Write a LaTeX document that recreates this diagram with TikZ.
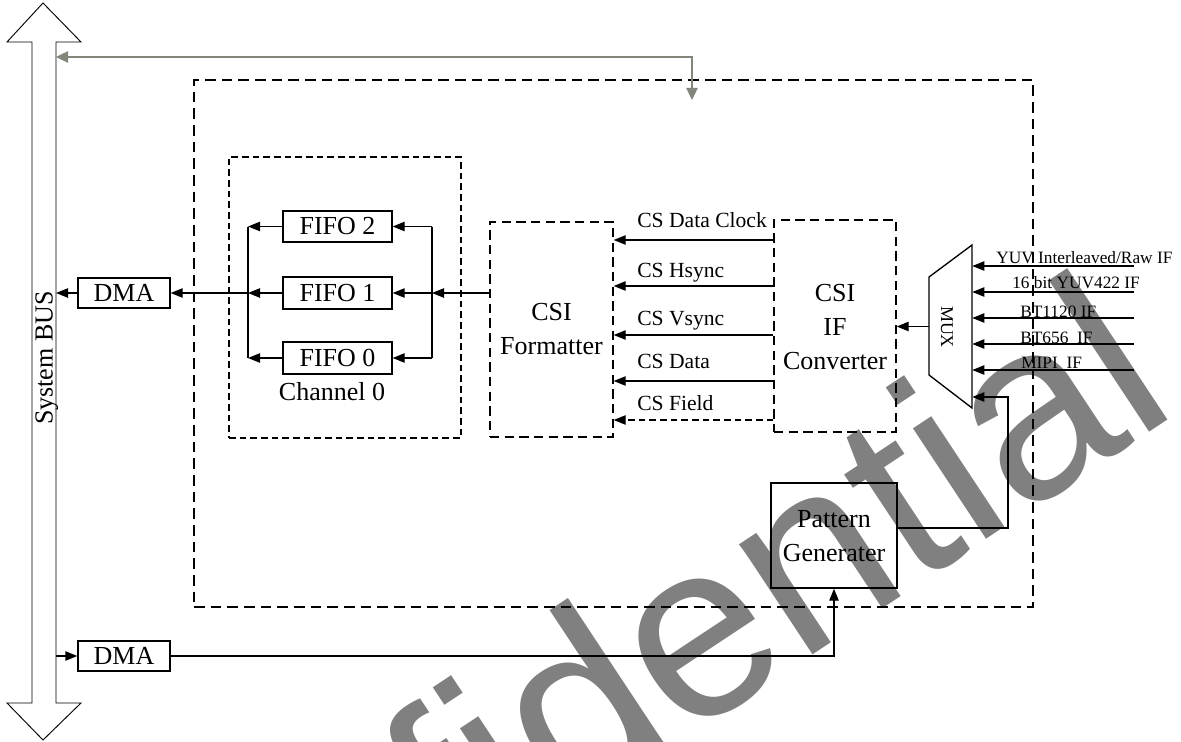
\documentclass[tikz,border=0pt]{standalone}
\usepackage{fontspec}
\setmainfont{Liberation Serif}
\newfontfamily\wmfont{Liberation Sans}
\usetikzlibrary{arrows.meta,fit,calc}
\definecolor{wmgrey}{RGB}{128,128,128}
\definecolor{arrgrey}{RGB}{128,134,122}
\begin{document}
\begin{tikzpicture}[x=0.75pt,y=-0.75pt,
  >={Triangle[length=9pt,width=7pt]},
  ln/.style={line width=1pt},
  blk/.style={draw, line width=1pt, inner sep=0pt},
  dout/.style={draw, line width=1pt, dash pattern=on 8pt off 4.5pt, inner sep=0pt},
  dchan/.style={draw, line width=1pt, dash pattern=on 5pt off 3pt, inner sep=0pt},
  dcsi/.style={draw, line width=1pt, dash pattern=on 7pt off 4pt, inner sep=0pt},
  bigtxt/.style={font=\fontsize{19.5pt}{25.5pt}\selectfont, align=center, inner sep=0pt},
  sigtxt/.style={font=\fontsize{16.2pt}{18pt}\selectfont, inner sep=0pt, anchor=base west},
  intxt/.style={font=\fontsize{13pt}{15pt}\selectfont, inner sep=0pt, anchor=base west},
  wmtxt/.style={font=\wmfont\fontsize{188pt}{188pt}\selectfont, text=wmgrey, inner sep=0pt},
]
\useasboundingbox (0,0) rectangle (1181,742);
% watermark
\begin{scope}
\clip (0,0) rectangle (1181,742);
\node[wmtxt, rotate=33.5, anchor=base west] (wmark) at (78,1141) {Confidential};
\end{scope}

% system bus
\draw[line width=0.7pt] (43,3) -- (81,42) -- (56,42) -- (56,703) -- (81,703) -- (43,740)
  -- (7,703) -- (32,703) -- (32,42) -- (7,42) -- cycle;
\node[bigtxt, rotate=90, anchor=base] (busl) at (52.5,358) {System BUS};
\coordinate (busA) at (56,293);
\coordinate (busB) at (56,57);
\coordinate (busC) at (56,656);

% DMA boxes
\node[blk, fit={(78,278) (170,308)}] (dma1) {};
\node[bigtxt] (dma1t) at (dma1.center) {DMA};
\node[blk, fit={(78,641) (170,671)}] (dma2) {};
\node[bigtxt] (dma2t) at (dma2.center) {DMA};

% outer CSI box
\node[dout, fit={(194,80) (1033,607)}] (csi) {};
\coordinate (gt) at (692,100);
\draw[line width=0.8pt, arrgrey, <->, >={Triangle[length=9pt,width=8.5pt]}] (busB) -| (gt);

% channel 0
\node[dchan, fit={(229,157) (461,438)}] (chan) {};
\node[blk, fit={(283,211) (392,242)}] (fifo2) {};
\node[bigtxt] (fifo2t) at (fifo2.center) {FIFO 2};
\node[blk, fit={(283,277) (392,309)}] (fifo1) {};
\node[bigtxt] (fifo1t) at (fifo1.center) {FIFO 1};
\node[blk, fit={(283,342) (392,374)}] (fifo0) {};
\node[bigtxt] (fifo0t) at (fifo0.center) {FIFO 0};
\node[bigtxt, anchor=base] (chl) at (332,400) {Channel 0};
\coordinate (lb) at (248,0);
\coordinate (rb) at (432,0);

% formatter and converter
\node[dcsi, fit={(490,222) (613,437)}] (fmt) {};
\node[bigtxt] (fmtt) at (551.5,329) {CSI\\Formatter};
\node[dcsi, fit={(774,220) (896,432)}] (conv) {};
\node[bigtxt] (convt) at (835,327) {CSI\\IF\\Converter};

% channel wiring
\draw[ln] (lb |- fifo2.west) -- (lb |- fifo0.west);
\draw[ln,->] (fifo2.west) -- (lb |- fifo2.west);
\draw[ln,->] (fifo1.west) -- (lb |- fifo1.west);
\draw[ln,->] (fifo0.west) -- (lb |- fifo0.west);
\draw[ln] (rb |- fifo2.east) -- (rb |- fifo0.east);
\draw[ln,->] (rb |- fifo2.east) -- (fifo2.east);
\draw[ln,->] (rb |- fifo1.east) -- (fifo1.east);
\draw[ln,->] (rb |- fifo0.east) -- (fifo0.east);
\draw[ln,->] (fmt.west |- fifo1.east) -- (rb |- fifo1.east);
\draw[ln,->] (lb |- fifo1.west) -- (dma1.east);
\draw[ln,->] (dma1.west) -- (busA);

% signals
\coordinate (s1) at (0,240);
\coordinate (s2) at (0,286);
\coordinate (s3) at (0,335);
\coordinate (s4) at (0,381);
\coordinate (s5) at (0,420);
\draw[ln,->] (conv.west |- s1) -- (fmt.east |- s1);
\draw[ln,->] (conv.west |- s2) -- (fmt.east |- s2);
\draw[ln,->] (conv.west |- s3) -- (fmt.east |- s3);
\draw[ln,->] (conv.west |- s4) -- (fmt.east |- s4);
\draw[ln,dash pattern=on 5pt off 3pt,->] (conv.west |- s5) -- (fmt.east |- s5);
\node[sigtxt] (t1) at (637,227) {CS Data Clock};
\node[sigtxt] (t2) at (637,277) {CS Hsync};
\node[sigtxt] (t3) at (637,325) {CS Vsync};
\node[sigtxt] (t4) at (637,368) {CS Data};
\node[sigtxt] (t5) at (637,410) {CS Field};

% MUX
\node[inner sep=0pt, fit={(929,245) (972,408)}] (mux) {};
\draw[ln] (929,277) -- (972,245) -- (972,408) -- (929,375) -- cycle;
\node[font=\fontsize{13.5pt}{14pt}\selectfont, inner sep=0pt, rotate=-90] (muxl) at (947,327) {MUX};
\draw[ln,->] (mux.west) -- (conv.east |- mux.west);

% inputs
\coordinate (i1) at (1134,266);
\coordinate (i2) at (1134,292);
\coordinate (i3) at (1134,318);
\coordinate (i4) at (1134,344);
\coordinate (i5) at (1134,370);
\draw[ln,->] (i1) -- (mux.east |- i1);
\draw[ln,->] (i2) -- (mux.east |- i2);
\draw[ln,->] (i3) -- (mux.east |- i3);
\draw[ln,->] (i4) -- (mux.east |- i4);
\draw[ln,->] (i5) -- (mux.east |- i5);
\node[intxt] (il1) at (996,263) {YUV Interleaved/Raw IF};
\node[intxt] (il2) at (1012,288) {16 bit YUV422 IF};
\node[intxt] (il3) at (1020,317) {BT1120 IF};
\node[intxt] (il4) at (1020,343) {BT656\ \ IF};
\node[intxt] (il5) at (1021,368) {MIPI\ \ IF};

% pattern generator
\node[blk, fit={(771,483) (897,588)}] (pg) {};
\node[bigtxt] (pgt) at (834,536) {Pattern\\Generater};
\coordinate (pgc) at (1008,528);
\coordinate (m6) at (0,397);
\draw[ln,->] (pg.east |- pgc) -- (pgc) |- (mux.east |- m6);
\draw[ln,->] (busC) -- (dma2.west);
\draw[ln,->] (dma2.east) -| (pg.south);
\end{tikzpicture}
\end{document}
